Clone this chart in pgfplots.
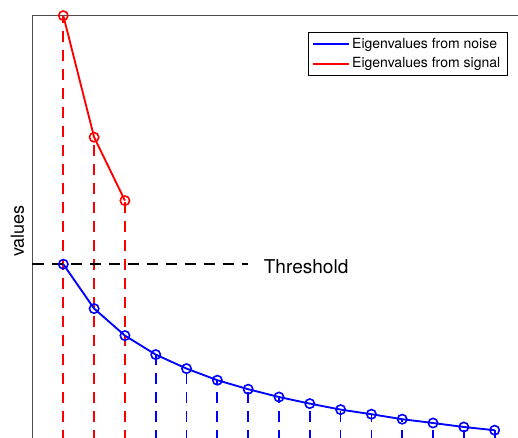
\documentclass[border=0pt]{standalone}
\usepackage{pgfplots}
\pgfplotsset{compat=1.18}
\usepackage{fontspec}
\setmainfont{TeX Gyre Heros}

% Eigenvalue spectrum: noise eigenvalues and signal eigenvalues
\pgfplotstableread{
k  v
1  9.79
2  7.57
3  6.22
4  5.27
5  4.57
6  3.99
7  3.54
8  3.15
9  2.82
10 2.52
11 2.29
12 2.04
13 1.85
14 1.65
15 1.49
}\noise
\pgfplotstableread{
k  v
1  22.22
2  16.14
3  12.97
}\signal

\begin{document}
\begin{tikzpicture}
\path[use as bounding box, clip] (0,0) rectangle (388.5pt,-327.75pt);
\begin{axis}[
  at={(24.375pt,-345pt)}, anchor=south west,
  x=23.1075pt, y=15pt,
  xmin=0, xmax=16, ymin=0, ymax=22.225,
  xtick=\empty, ytick=\empty,
  axis line style={draw=black!70, line width=0.6pt},
  clip=false,
  ylabel={values},
  ylabel style={at={(axis description cs:-0.0304,0.515)}, anchor=center,
                font=\fontsize{13.5}{16}\selectfont},
  legend style={at={(axis cs:8.932,21.385)}, anchor=north west,
                draw=black, line width=0.5pt,
                font=\fontsize{10.5}{12}\selectfont,
                inner xsep=3pt, inner ysep=2pt, row sep=1.5pt},
  legend cell align=left,
  legend image code/.code={\draw[#1] (0pt,0pt) -- (26.7pt,0pt);},
  stem/.style={ycomb, line width=1.3pt, dash pattern=on 8.25pt off 6pt},
  curve/.style={line width=1.4pt, mark=o, mark size=3.5pt,
                mark options={solid, line width=1.2pt}},
]
% dashed stems from zero up to each eigenvalue
\addplot[stem, blue, forget plot] table[x=k, y=v] {\noise};
\addplot[stem, red, forget plot] table[x=k, y=v] {\signal};
% threshold level
\addplot[black, line width=1.3pt, dash pattern=on 8.25pt off 6pt, forget plot]
  coordinates {(0,9.79) (7.0,9.79)};
\node[anchor=west, inner sep=0pt, font=\fontsize{14.3}{17}\selectfont]
  at (axis cs:7.5,9.68) {Threshold};
% eigenvalue curves
\addplot[curve, blue] table[x=k, y=v] {\noise};
\addlegendentry{Eigenvalues from noise}
\addplot[curve, red] table[x=k, y=v] {\signal};
\addlegendentry{Eigenvalues from signal}
\end{axis}
\end{tikzpicture}
\end{document}
